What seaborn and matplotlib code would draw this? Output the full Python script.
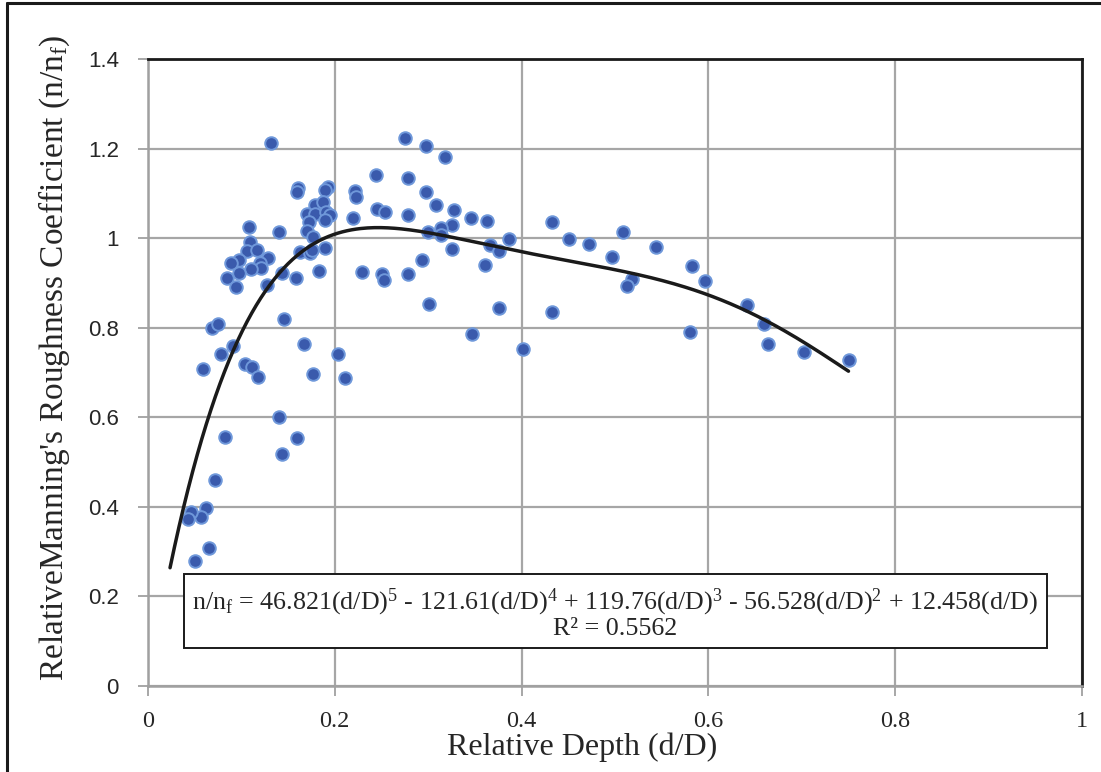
import numpy as np
import pandas as pd
import matplotlib
matplotlib.use("Agg")
import matplotlib.pyplot as plt
from matplotlib.lines import Line2D
import seaborn as sns

# ---- data ----
depth = [0.132, 0.244, 0.161, 0.159, 0.193, 0.190, 0.222, 0.223, 0.179, 0.187,
         0.170, 0.179, 0.191, 0.195, 0.189, 0.172, 0.245, 0.254, 0.220, 0.108,
         0.140, 0.170, 0.177, 0.109, 0.106, 0.117, 0.128, 0.097, 0.089, 0.120,
         0.121, 0.110, 0.097, 0.085, 0.094, 0.127, 0.144, 0.163, 0.173, 0.176,
         0.189, 0.183, 0.158, 0.229, 0.251, 0.253, 0.146, 0.069, 0.075, 0.091,
         0.078, 0.167, 0.203, 0.059, 0.104, 0.111, 0.118, 0.177, 0.211, 0.140,
         0.082, 0.159, 0.143, 0.072, 0.062, 0.057, 0.046, 0.043, 0.065, 0.050,
         0.275, 0.298, 0.318, 0.278, 0.298, 0.308, 0.328, 0.278, 0.346, 0.363,
         0.325, 0.314, 0.300, 0.314, 0.366, 0.376, 0.387, 0.326, 0.293, 0.361,
         0.278, 0.301, 0.376, 0.347, 0.401, 0.433, 0.433, 0.451, 0.472, 0.509,
         0.497, 0.544, 0.518, 0.513, 0.582, 0.596, 0.580, 0.641, 0.659, 0.664,
         0.702, 0.750]
rel_n = [1.212, 1.141, 1.111, 1.104, 1.115, 1.107, 1.105, 1.092, 1.074, 1.081,
         1.053, 1.055, 1.059, 1.052, 1.040, 1.037, 1.066, 1.059, 1.046, 1.024,
         1.014, 1.016, 1.002, 0.992, 0.971, 0.973, 0.955, 0.951, 0.944, 0.945,
         0.934, 0.930, 0.923, 0.910, 0.890, 0.895, 0.923, 0.968, 0.967, 0.973,
         0.979, 0.926, 0.910, 0.924, 0.921, 0.906, 0.819, 0.800, 0.809, 0.759,
         0.741, 0.763, 0.741, 0.707, 0.719, 0.713, 0.689, 0.697, 0.687, 0.600,
         0.555, 0.554, 0.519, 0.461, 0.398, 0.378, 0.388, 0.374, 0.309, 0.279,
         1.223, 1.206, 1.182, 1.134, 1.104, 1.073, 1.063, 1.052, 1.046, 1.038,
         1.029, 1.022, 1.014, 1.007, 0.985, 0.971, 0.997, 0.976, 0.951, 0.940,
         0.920, 0.852, 0.845, 0.785, 0.752, 1.035, 0.834, 0.997, 0.986, 1.013,
         0.959, 0.981, 0.908, 0.894, 0.938, 0.905, 0.790, 0.851, 0.808, 0.764,
         0.745, 0.728]

# trend line coefficients shown on the chart (powers 5..1, zero intercept)
trend_coefs = [46.821, -121.61, 119.76, -56.528, 12.458, 0.0]
trend_range = [0.0236, 0.75]
r_squared = "0.5562"

x_ticks = [0, 0.2, 0.4, 0.6, 0.8, 1]
y_ticks = [0, 0.2, 0.4, 0.6, 0.8, 1, 1.2, 1.4]
x_ticklabels = ["0", "0.2", "0.4", "0.6", "0.8", "1"]
y_ticklabels = ["0", "0.2", "0.4", "0.6", "0.8", "1", "1.2", "1.4"]

# ---- styling ----
sns.set_theme(style="white")
plt.rcParams["font.family"] = ["Liberation Serif", "DejaVu Serif"]
plt.rcParams["mathtext.fontset"] = "custom"
plt.rcParams["mathtext.rm"] = "Liberation Serif"
plt.rcParams["mathtext.it"] = "Liberation Serif:italic"

fig = plt.figure(figsize=(11.01, 7.72), dpi=100)
ax = fig.add_axes([148 / 1101, 86 / 772, (1082 - 148) / 1101, (713 - 86) / 772])

df = pd.DataFrame({"d/D": depth, "n/nf": rel_n})
sns.scatterplot(data=df, x="d/D", y="n/nf", ax=ax, s=82, color="#3A5AAC",
                edgecolor="#6F98DA", linewidth=1.4, zorder=3)

xs = np.linspace(trend_range[0], trend_range[1], 300)
trend = pd.DataFrame({"d/D": xs, "fit": np.polyval(trend_coefs, xs)})
sns.lineplot(data=trend, x="d/D", y="fit", ax=ax, color="#1a1a1a", linewidth=2.5,
             zorder=4)

ax.set_xlim(0, 1)
ax.set_ylim(0, 1.4)
ax.set_xticks(x_ticks)
ax.set_yticks(y_ticks)
ax.set_xticklabels(x_ticklabels, family="Liberation Serif", fontsize=17.5)
ax.set_yticklabels(y_ticklabels, family="Liberation Sans", fontsize=16)
ax.tick_params(axis="both", which="both", direction="out", length=7, width=1.3,
               color="#A0A0A0", left=True, bottom=True)
ax.tick_params(axis="x", pad=11)
ax.tick_params(axis="y", pad=14)
ax.grid(True, color="#A6A6A6", linewidth=1.6)
ax.set_axisbelow(True)
for side in ["left", "bottom"]:
    ax.spines[side].set_color("#A0A0A0")
    ax.spines[side].set_linewidth(1.8)
for side in ["top", "right"]:
    ax.spines[side].set_color("#1a1a1a")
    ax.spines[side].set_linewidth(2.0)

ax.set_xlabel("Relative Depth (d/D)", fontsize=23)
ax.xaxis.set_label_coords((582 - 148) / 934, -(733 - 686) / 627)
ax.set_ylabel("RelativeManning's Roughness Coefficient (n/n$_\\mathrm{f}$)",
              fontsize=24)
ax.yaxis.set_label_coords(-(148 - 72) / 934, (686 - 358) / 627)

eq = ("n/n$_\\mathrm{f}$ = 46.821(d/D)$^{5}$ - 121.61(d/D)$^{4}$ + 119.76(d/D)$^{3}$"
      " - 56.528(d/D)$^{2}$ + 12.458(d/D)\nR² = " + r_squared)
ax.text(0.5005, 0.163, eq, ha="center", va="center", multialignment="center",
        fontsize=18.7, linespacing=1.0, zorder=5,
        bbox=dict(boxstyle="square,pad=0.32", facecolor="white",
                  edgecolor="#1a1a1a", linewidth=1.4))

# figure border (left and top edges visible in the reference)
fig.add_artist(Line2D([7 / 1101, 7 / 1101], [0, 1 - 3 / 772],
                      transform=fig.transFigure, color="#1a1a1a", linewidth=2.2))
fig.add_artist(Line2D([7 / 1101, 1], [1 - 3 / 772, 1 - 3 / 772],
                      transform=fig.transFigure, color="#1a1a1a", linewidth=2.2))

fig.savefig("out.png", dpi=100)
